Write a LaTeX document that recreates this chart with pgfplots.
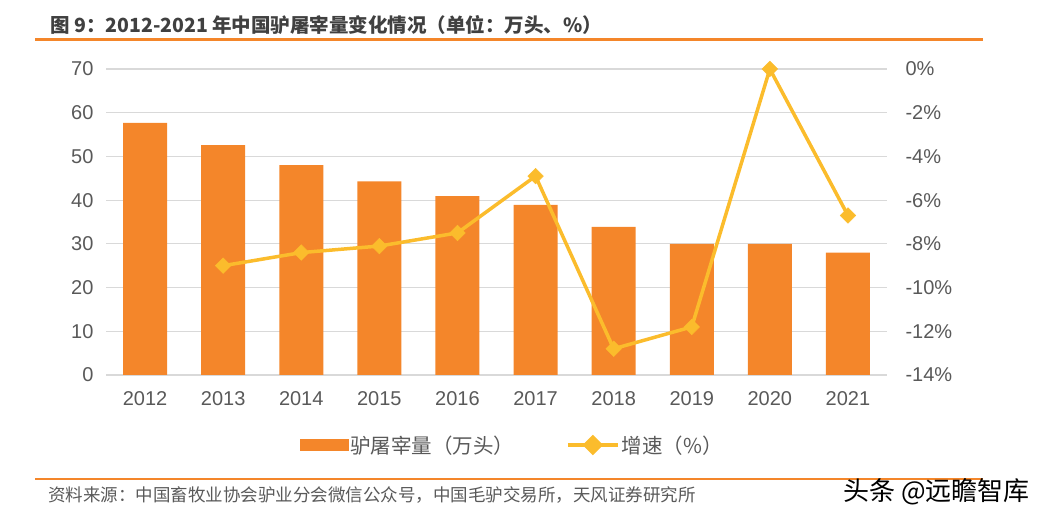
\documentclass[border=0pt]{standalone}
\usepackage{pgfplots}
\pgfplotsset{compat=1.18}
\usepackage{fontspec}
\setmainfont{Liberation Sans}
\newfontfamily\cjk{Noto Sans CJK SC}
\definecolor{barc}{HTML}{F4862A}
\definecolor{linec}{HTML}{FBBC2C}
\definecolor{txt}{HTML}{595959}
\definecolor{gridc}{HTML}{D9D9D9}
\definecolor{ttl}{HTML}{404040}
\begin{document}
\begin{tikzpicture}[x=1pt,y=1pt]
\path (0,0) rectangle (1045,522);
\node[anchor=west, font=\cjk\bfseries\fontsize{19.5}{22}\selectfont, text=ttl, inner sep=0] at (50,497) {图 9：2012-2021 年中国驴屠宰量变化情况（单位：万头、\%）};
\draw[barc, line width=3pt] (35,482) -- (983,482);
\draw[barc, line width=1.2pt] (35,43) -- (983,43);
\node[anchor=west, font=\cjk\fontsize{17.5}{20}\selectfont, text=txt, inner sep=0] at (48,27) {资料来源：中国畜牧业协会驴业分会微信公众号，中国毛驴交易所，天风证券研究所};
\node[anchor=east, font=\cjk\fontsize{26}{30}\selectfont, text=black, inner sep=0] at (1030,30) {头条 @远瞻智库};

\begin{axis}[
  scale only axis, width=781pt, height=306pt,
  at={(106pt,147pt)}, anchor=south west,
  xmin=-0.5, xmax=9.5, ymin=0, ymax=70,
  ytick={0,10,...,70},
  xtick={0,...,9},
  xticklabels={2012,2013,2014,2015,2016,2017,2018,2019,2020,2021},
  major tick length=0pt,
  /pgf/number format/assume math mode=true,
  ymajorgrids, grid style={gridc, line width=1.2pt},
  axis line style={draw=none},
  tick label style={text=txt, font=\fontsize{20}{22}\selectfont},
  xticklabel style={yshift=-13pt},
  yticklabel style={xshift=-9pt},
  clip=false,
]
\addplot[ybar, fill=barc, draw=none, bar width=44pt] coordinates {
(0,57.7) (1,52.6) (2,48.0) (3,44.3) (4,40.9) (5,38.9) (6,33.9) (7,30.0) (8,30.0) (9,28.0)};
\end{axis}

\begin{axis}[
  scale only axis, width=781pt, height=306pt,
  at={(106pt,147pt)}, anchor=south west,
  xmin=-0.5, xmax=9.5, ymin=-14, ymax=0,
  ytick={-14,-12,...,0},
  axis y line*=right, hide x axis,
  axis line style={draw=none},
  major tick length=0pt,
  /pgf/number format/assume math mode=true,
  yticklabel={\pgfmathprintnumber{\tick}\%},
  tick label style={text=txt, font=\fontsize{20}{22}\selectfont},
  yticklabel style={xshift=15pt},
  clip=false,
  legend columns=2,
  legend style={draw=none, fill=none, at={(0.52,-0.229)}, anchor=center,
    font=\cjk\fontsize{20.5}{24}\selectfont, text=txt,
    /tikz/every even column/.append style={column sep=50pt}},
  legend cell align=left,
]
\addlegendimage{legend image code/.code={\fill[barc] (0pt,-5.5pt) rectangle (48pt,5.5pt);}}
\addlegendentry{驴屠宰量（万头）}
\addplot[linec, line width=3.5pt, mark=square*, mark size=5.5pt,
  mark options={solid, rotate=45, fill=linec, draw=linec, line width=0.5pt},
  legend image code/.code={\draw[linec, line width=3.5pt] (0pt,0pt) -- (50pt,0pt);
    \fill[linec, rotate around={45:(25pt,0pt)}] (19.5pt,-5.5pt) rectangle (30.5pt,5.5pt);}]
coordinates {(1,-9.0) (2,-8.4) (3,-8.1) (4,-7.5) (5,-4.9) (6,-12.8) (7,-11.8) (8,0) (9,-6.7)};
\addlegendentry{增速（\%）}
\end{axis}
\end{tikzpicture}
\end{document}
